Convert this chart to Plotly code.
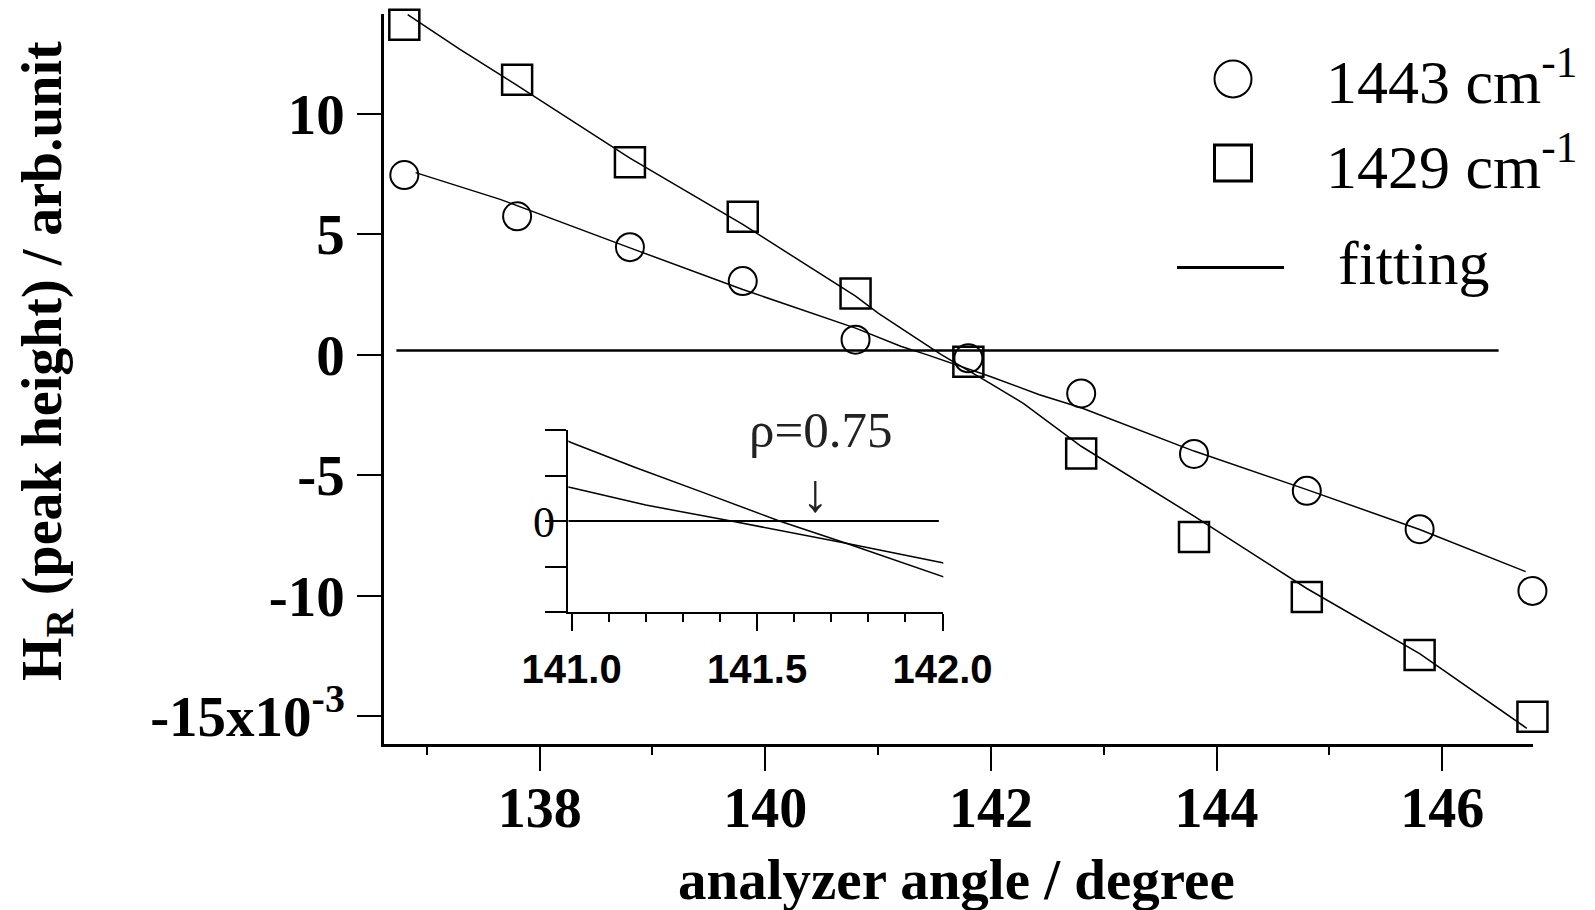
import plotly.graph_objects as go

# ---------------- data (units of 1e-3 arb.unit) ----------------
angle = [136.8, 137.8, 138.8, 139.8, 140.8, 141.8, 142.8, 143.8, 144.8, 145.8, 146.8]
h1443 = [7.45, 5.74, 4.46, 3.05, 0.62, -0.15, -1.61, -4.12, -5.65, -7.24, -9.80]
h1429 = [13.68, 11.40, 7.98, 5.72, 2.54, -0.29, -4.10, -7.56, -10.05, -12.46, -15.02]

fit1443_x = [136.9, 137.65, 138.8, 139.8, 140.8, 141.0, 141.2, 141.43, 141.74, 142.0,
             142.43, 142.8, 143.8, 144.8, 145.8, 146.74]
fit1443_y = [7.55, 6.44, 4.43, 2.70, 1.10, 0.73, 0.35, 0.0, -0.49, -0.92,
             -1.66, -2.20, -4.00, -5.60, -7.25, -9.00]

fit1429_x = [136.83, 137.29, 137.8, 138.8, 139.8, 140.8, 141.0, 141.17, 141.35, 141.56,
             141.74, 142.0, 142.29, 142.8, 143.8, 144.8, 145.8, 146.75]
fit1429_y = [14.10, 12.67, 11.17, 8.15, 5.40, 2.43, 1.72, 1.18, 0.64, 0.0,
             -0.49, -1.21, -2.03, -3.80, -6.70, -9.70, -12.40, -15.50]

zero_main_x = [136.73, 146.5]
zero_main_y = [0.17, 0.17]
zero_inset_x = [140.991, 141.99]
zero_inset_y = [0.0, 0.0]

main_xticks = [138, 140, 142, 144, 146]
main_xminor = [137, 139, 141, 143, 145]
main_yticks = [-15, -10, -5, 0, 5, 10]
main_yticktext = ["-15x10<sup>-3</sup>", "-10", "-5", "0", "5", "10"]
inset_xticks = [141.0, 141.5, 142.0]
inset_xticktext = ["141.0", "141.5", "142.0"]
inset_xminor = [141.1, 141.2, 141.3, 141.4, 141.6, 141.7, 141.8, 141.9]
inset_yticks = [-2, -1, 0, 1, 2]

legend_labels = ["1443 cm<sup>-1</sup>", "1429 cm<sup>-1</sup>", "fitting"]
rho_text = "\u03c1=0.75"

# ---------------- geometry helpers (pixel -> paper) ----------------
W, H = 1595, 910
L, R, T, B = 384, 62, 14, 166
PW, PH = W - L - R, H - T - B


def px(x):
    return (x - L) / PW


def py(y):
    return (H - B - y) / PH


SERIF = "Liberation Serif"
SANS = "Liberation Sans"

fig = go.Figure()

# main plot traces
fig.add_trace(go.Scatter(x=zero_main_x, y=zero_main_y, mode="lines",
                         line=dict(color="black", width=2.5), hoverinfo="skip"))
fig.add_trace(go.Scatter(x=fit1443_x, y=fit1443_y, mode="lines",
                         line=dict(color="black", width=1.5)))
fig.add_trace(go.Scatter(x=fit1429_x, y=fit1429_y, mode="lines",
                         line=dict(color="black", width=1.5)))
fig.add_trace(go.Scatter(x=angle, y=h1443, mode="markers", cliponaxis=False,
                         marker=dict(symbol="circle-open", size=28, color="black",
                                     line=dict(width=2, color="black"))))
fig.add_trace(go.Scatter(x=angle, y=h1429, mode="markers", cliponaxis=False,
                         marker=dict(symbol="square-open", size=30, color="black",
                                     line=dict(width=2.5, color="black"))))

# inset traces
fig.add_trace(go.Scatter(x=zero_inset_x, y=zero_inset_y, mode="lines", xaxis="x2", yaxis="y2",
                         line=dict(color="black", width=2)))
fig.add_trace(go.Scatter(x=fit1443_x, y=fit1443_y, mode="lines", xaxis="x2", yaxis="y2",
                         line=dict(color="black", width=1.5)))
fig.add_trace(go.Scatter(x=fit1429_x, y=fit1429_y, mode="lines", xaxis="x2", yaxis="y2",
                         line=dict(color="black", width=1.5)))

axis_common = dict(showgrid=False, zeroline=False, showline=True, linecolor="black",
                   ticks="outside", tickcolor="black")

fig.update_layout(
    width=W, height=H,
    margin=dict(l=L, r=R, t=T, b=B),
    paper_bgcolor="white", plot_bgcolor="rgba(0,0,0,0)",
    showlegend=False,
    xaxis=dict(**axis_common, range=[136.62, 146.805], linewidth=2.5,
               tickmode="array", tickvals=main_xticks, ticklen=24, tickwidth=2,
               tickfont=dict(family=SERIF, size=56, color="black", weight="bold"),
               ticklabelstandoff=-11,
               minor=dict(tickmode="array", tickvals=main_xminor, ticklen=8, tickwidth=2,
                          ticks="outside", tickcolor="black")),
    yaxis=dict(**axis_common, range=[-16.15, 14.13], linewidth=2.5,
               tickmode="array", tickvals=main_yticks, ticktext=main_yticktext,
               ticklen=24, tickwidth=2, ticklabelstandoff=1,
               tickfont=dict(family=SERIF, size=57, color="black", weight="bold")),
    xaxis2=dict(**axis_common, domain=[px(568.3), px(943.3)], anchor="y2",
                range=[140.991, 142.002], linewidth=2,
                tickmode="array", tickvals=inset_xticks, ticktext=inset_xticktext,
                ticklen=17, tickwidth=2, ticklabelstandoff=4,
                tickfont=dict(family=SANS, size=40, color="black", weight="bold"),
                minor=dict(tickmode="array", tickvals=inset_xminor, ticklen=8, tickwidth=2,
                           ticks="outside", tickcolor="black")),
    yaxis2=dict(**axis_common, domain=[py(612), py(430)], anchor="x2",
                range=[-2, 2], linewidth=2,
                tickmode="array", tickvals=inset_yticks, showticklabels=False,
                ticklen=21, tickwidth=2),
)

annotations = []
# axis titles
annotations.append(dict(text="analyzer angle / degree", xref="paper", yref="paper",
                        x=px(956), y=py(879), xanchor="center", yanchor="middle",
                        showarrow=False,
                        font=dict(family=SERIF, size=57, color="black", weight="bold")))
annotations.append(dict(text="H<sub>R</sub> (peak height) / arb.unit", xref="paper", yref="paper",
                        x=px(46), y=py(361), xanchor="center", yanchor="middle",
                        textangle=-90, showarrow=False,
                        font=dict(family=SERIF, size=56, color="black", weight="bold")))
# inset "0" label
annotations.append(dict(text="0", xref="paper", yref="paper", x=px(557), y=py(522),
                        xanchor="right", yanchor="middle", showarrow=False,
                        font=dict(family=SERIF, size=44, color="black")))
# rho annotation and arrow
annotations.append(dict(text=rho_text, xref="paper", yref="paper", x=px(820), y=py(430),
                        xanchor="center", yanchor="middle", showarrow=False,
                        font=dict(family=SERIF, size=51, color="#222222")))
annotations.append(dict(text="\u2193", xref="paper", yref="paper", x=px(815), y=py(493),
                        xanchor="center", yanchor="middle", showarrow=False,
                        font=dict(family=SERIF, size=54, color="#222222")))
# legend texts
annotations.append(dict(text=legend_labels[0], xref="paper", yref="paper", x=px(1324), y=py(77),
                        xanchor="left", yanchor="middle", showarrow=False,
                        font=dict(family=SERIF, size=62, color="black")))
annotations.append(dict(text=legend_labels[1], xref="paper", yref="paper", x=px(1324), y=py(162),
                        xanchor="left", yanchor="middle", showarrow=False,
                        font=dict(family=SERIF, size=62, color="black")))
annotations.append(dict(text=legend_labels[2], xref="paper", yref="paper", x=px(1336), y=py(263),
                        xanchor="left", yanchor="middle", showarrow=False,
                        font=dict(family=SERIF, size=62, color="black")))
fig.update_layout(annotations=annotations)

# legend symbols
shapes = [
    dict(type="circle", xref="paper", yref="paper",
         x0=px(1233 - 18.5), x1=px(1233 + 18.5), y0=py(79 + 18.5), y1=py(79 - 18.5),
         line=dict(color="black", width=2)),
    dict(type="rect", xref="paper", yref="paper",
         x0=px(1233 - 18.5), x1=px(1233 + 18.5), y0=py(163 + 18), y1=py(163 - 18),
         line=dict(color="black", width=3)),
    dict(type="line", xref="paper", yref="paper",
         x0=px(1177), x1=px(1284), y0=py(267.5), y1=py(267.5),
         line=dict(color="black", width=3)),
]
fig.update_layout(shapes=shapes)

fig.write_html(
    "out.html",
    config={"displayModeBar": False},
    post_script="document.body.style.margin='0px';document.body.style.overflow='hidden';",
)
